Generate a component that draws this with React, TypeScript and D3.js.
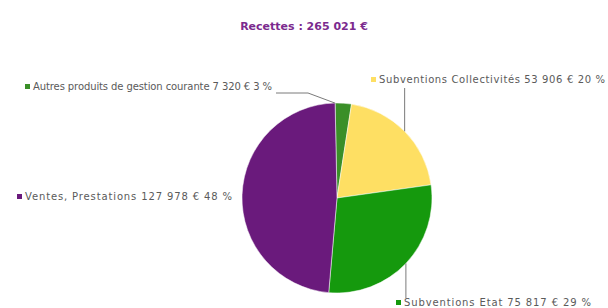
import React from "react";
import * as d3 from "d3";

const title = "Recettes : 265 021 €";
const categories = [
  "Autres produits de gestion courante",
  "Subventions Collectivités",
  "Subventions Etat",
  "Ventes, Prestations",
];
const values = [7320, 53906, 75817, 127978];
const valueLabels = ["7 320 €", "53 906 €", "75 817 €", "127 978 €"];
const percentLabels = ["3 %", "20 %", "29 %", "48 %"];
const colors = ["#3a8f28", "#fedf63", "#15990d", "#6a1a7c"];

const W = 608;
const H = 308;
const cx = 337;
const cy = 198;
const R = 95;

const labelLayout = [
  { x: 25, y: 90, len: 239, leader: (p: [number, number]) => [[276, 93], [308, 93], [p[0] - 8, p[1]]] },
  { x: 371, y: 83, len: 226, leader: (p: [number, number]) => [[p[0], 88], p] },
  { x: 396, y: 306, len: 187, leader: (p: [number, number]) => [[p[0], 298], p] },
  { x: 17, y: 200, len: 207, leader: null },
];

export default function App() {
  const pie = d3
    .pie<number>()
    .sort(null)
    .startAngle(-0.02)
    .endAngle(2 * Math.PI - 0.02);
  const arcs = pie(values);
  const arc = d3.arc<d3.PieArcDatum<number>>().innerRadius(0).outerRadius(R);
  const line = d3.line();

  return (
    <svg
      width={W}
      height={H}
      style={{ position: "absolute", left: 0, top: 0, background: "#fff" }}
      fontFamily="'DejaVu Sans', Verdana, sans-serif"
    >
      <text
        x={304}
        y={30}
        textAnchor="middle"
        fontSize={11}
        fontWeight="bold"
        fill="#7b2a8e"
      >
        {title}
      </text>
      <g transform={`translate(${cx},${cy})`}>
        {arcs.map((a, i) => (
          <path key={i} d={arc(a) || ""} fill={colors[i]} stroke="#fff" strokeWidth={0.5} />
        ))}
      </g>
      {arcs.map((a, i) => {
        const mid = (a.startAngle + a.endAngle) / 2;
        const p: [number, number] = [cx + Math.sin(mid) * R, cy - Math.cos(mid) * R];
        const lay = labelLayout[i];
        const pts = lay.leader ? (lay.leader(p) as [number, number][]) : null;
        return (
          <g key={i}>
            {pts && (
              <path d={line(pts) || ""} fill="none" stroke="#7a7a7a" strokeWidth={1} />
            )}
            <rect x={lay.x} y={lay.y - 6} width={5} height={5} fill={colors[i]} />
            <text
              x={lay.x + 8}
              y={lay.y}
              fontSize={10}
              fill="#5a5a5a"
              textLength={lay.len}
              lengthAdjust="spacing"
            >
              {`${categories[i]} ${valueLabels[i]} ${percentLabels[i]}`}
            </text>
          </g>
        );
      })}
    </svg>
  );
}
